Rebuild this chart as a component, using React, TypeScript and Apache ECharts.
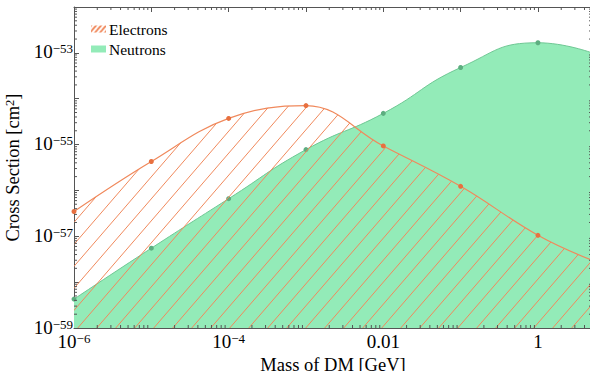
import React, { useEffect, useRef } from 'react';
import * as echarts from 'echarts';

const FONT = '"Liberation Serif", "Times New Roman", serif';

// Dark-matter mass (GeV) at which the cross sections were sampled
const massGeV = [1e-6, 1e-5, 1e-4, 1e-3, 1e-2, 1e-1, 1];
// Cross sections [cm^2]
const electronXS = [3.47e-57, 4.27e-56, 3.72e-55, 7.08e-55, 9.33e-56, 1.23e-56, 1.05e-57];
const neutronXS = [4.27e-59, 5.5e-58, 6.6e-57, 7.76e-56, 4.79e-55, 4.79e-54, 1.66e-53];
// curve values read at the right edge of the plot (no marker there)
const edgeMass = 5;
const electronEdgeXS = 3.0e-58;
const neutronEdgeXS = 1.0e-53;

const seriesNames = ['Electrons', 'Neutrons'];

// axis ranges (actual values; both axes are logarithmic)
const xRange = [1e-6, 5];
const yRange = [1e-59, 1e-52];

const xTickValues = [1e-6, 1e-4, 1e-2, 1];
const xTickLabels = ['{base|10}{sup|−6}', '{base|10}{sup|−4}', '{base|0.01}', '{base|1}'];
const yTickValues = [1e-59, 1e-57, 1e-55, 1e-53];
const yTickLabels = ['{base|10}{sup|−59}', '{base|10}{sup|−57}', '{base|10}{sup|−55}', '{base|10}{sup|−53}'];
const minorTickMultipliers = [2, 3, 4, 5, 6, 7, 8, 9];

const ORANGE = '#F0895C';
const ORANGE_DOT = '#E8703F';
const GREEN_FILL = '#93EBB8';
const GREEN_LINE = '#6FC794';
const GREEN_DOT = '#5DAE80';
const AXIS = '#555';

const lg = (v: number) => Math.log10(v);

function makeHatch(w: number, h: number, color: string, lw: number) {
  const c = document.createElement('canvas');
  c.width = w;
  c.height = h;
  const ctx = c.getContext('2d')!;
  ctx.strokeStyle = color;
  ctx.lineWidth = lw;
  for (const dx of [-w, 0, w]) {
    ctx.beginPath();
    ctx.moveTo(dx - 1, h + h / w);
    ctx.lineTo(dx + w + 1, -h / w);
    ctx.stroke();
  }
  return c;
}

function labelFor(values: number[], labels: string[]) {
  return (v: number) => {
    for (let i = 0; i < values.length; i++) {
      if (Math.abs(v - lg(values[i])) < 1e-6) return labels[i];
    }
    return '';
  };
}

function tickRich() {
  return {
    base: { fontFamily: FONT, fontSize: 19, color: '#000', lineHeight: 21, verticalAlign: 'top' },
    sup: { fontFamily: FONT, fontSize: 13, color: '#000', lineHeight: 12, verticalAlign: 'top' },
  };
}

export default function App() {
  const ref = useRef<HTMLDivElement>(null);
  useEffect(() => {
    const chart = echarts.init(ref.current!, null, { renderer: 'svg' });
    const hatch = makeHatch(19, 22, ORANGE, 1.0);
    const legendHatch = makeHatch(5, 6, ORANGE, 1.8);
    const hatchPattern: any = { image: hatch, repeat: 'repeat', imageWidth: 19, imageHeight: 22 };
    const legendPattern: any = { image: legendHatch, repeat: 'repeat', imageWidth: 5, imageHeight: 6 };

    const pts = (ys: number[], edge: number) =>
      massGeV
        .map((m, i) => [lg(m), lg(ys[i])] as any)
        .concat([{ value: [lg(edgeMass), lg(edge)], symbol: 'none' }]);

    const xMin = lg(xRange[0]);
    const xMax = lg(xRange[1]);
    const yMin = lg(yRange[0]);
    const yMax = lg(yRange[1]);

    // logarithmic minor tick positions (2..9 within each decade)
    const minor: number[][] = [];
    for (let d = Math.floor(xMin); d < xMax; d++) {
      for (const k of minorTickMultipliers) {
        const p = d + lg(k);
        if (p < xMax) minor.push([0, p]);
      }
    }
    for (let d = Math.floor(yMin); d < yMax; d++) {
      for (const k of minorTickMultipliers) {
        const p = d + lg(k);
        if (p < yMax) minor.push([1, p]);
      }
    }

    const axisCommon = {
      type: 'value',
      interval: 1,
      axisLine: { show: true, onZero: false, lineStyle: { color: AXIS, width: 1 } },
      axisTick: { show: true, inside: true, length: 5, lineStyle: { color: AXIS } },
      splitLine: { show: false },
    };

    const nameStyle = () => ({
      fontFamily: FONT,
      fontSize: 18.5,
      color: '#000',
      rich: {
        n: { fontFamily: FONT, fontSize: 18.5, color: '#000', lineHeight: 22, verticalAlign: 'top' },
        s: { fontFamily: FONT, fontSize: 12.5, color: '#000', lineHeight: 12, verticalAlign: 'top' },
      },
    });

    const option: any = {
      animation: false,
      backgroundColor: '#fff',
      grid: { left: 74, right: 0, top: 7, bottom: 43, containLabel: false, outerBoundsMode: 'none' },
      legend: {
        orient: 'vertical',
        left: 86,
        top: 16,
        itemWidth: 15,
        itemHeight: 7,
        itemGap: 4,
        textStyle: { fontFamily: FONT, fontSize: 15.5, color: '#000', padding: [0, 0, 0, -2] },
        data: [
          { name: seriesNames[0], icon: 'rect', itemStyle: { color: legendPattern, borderWidth: 0 } },
          { name: seriesNames[1], icon: 'rect', itemStyle: { color: GREEN_FILL, borderWidth: 0 } },
        ],
      },
      xAxis: [
        {
          ...axisCommon,
          position: 'bottom',
          min: xMin,
          max: xMax,
          axisLabel: {
            formatter: labelFor(xTickValues, xTickLabels),
            fontFamily: FONT,
            fontSize: 19,
            color: '#000',
            rich: tickRich(),
            margin: 4,
            showMaxLabel: false,
          },
          name: 'Mass of DM [GeV]',
          nameLocation: 'middle',
          nameGap: 21,
          nameTextStyle: nameStyle(),
        },
        {
          ...axisCommon,
          position: 'top',
          min: xMin,
          max: xMax,
          axisLabel: { show: false },
        },
      ],
      yAxis: [
        {
          ...axisCommon,
          position: 'left',
          min: yMin,
          max: yMax,
          axisLabel: {
            formatter: labelFor(yTickValues, yTickLabels),
            fontFamily: FONT,
            fontSize: 19,
            color: '#000',
            rich: tickRich(),
            margin: 1,
          },
          name: '{n|Cross Section [cm}{s|2}{n|]}',
          nameLocation: 'middle',
          nameGap: 40,
          nameTextStyle: nameStyle(),
        },
        {
          ...axisCommon,
          position: 'right',
          min: yMin,
          max: yMax,
          axisLabel: { show: false },
        },
      ],
      series: [
        {
          name: seriesNames[1],
          type: 'line',
          xAxisIndex: 0,
          yAxisIndex: 0,
          smooth: 0.5,
          symbol: 'circle',
          symbolSize: 5,
          data: pts(neutronXS, neutronEdgeXS),
          lineStyle: { color: GREEN_LINE, width: 1 },
          itemStyle: { color: GREEN_DOT },
          areaStyle: { color: GREEN_FILL, opacity: 1, origin: 'start' },
          z: 2,
        },
        {
          name: seriesNames[0],
          type: 'line',
          xAxisIndex: 0,
          yAxisIndex: 0,
          smooth: 0.4,
          symbol: 'circle',
          symbolSize: 5,
          data: pts(electronXS, electronEdgeXS),
          lineStyle: { color: ORANGE, width: 1.2 },
          itemStyle: { color: ORANGE_DOT },
          areaStyle: { color: hatchPattern, opacity: 1, origin: 'start' },
          z: 3,
        },
        {
          name: 'minor ticks',
          type: 'custom',
          xAxisIndex: 0,
          yAxisIndex: 0,
          silent: true,
          z: 10,
          data: minor,
          renderItem: (_params: any, api: any) => {
            const isY = api.value(0) === 1;
            const p = api.value(1);
            const L = 3;
            const st = { stroke: AXIS, lineWidth: 1 };
            if (!isY) {
              const b = api.coord([p, yMin]);
              const t = api.coord([p, yMax]);
              return {
                type: 'group',
                children: [
                  { type: 'line', shape: { x1: b[0], y1: b[1], x2: b[0], y2: b[1] - L }, style: st },
                  { type: 'line', shape: { x1: t[0], y1: t[1], x2: t[0], y2: t[1] + L }, style: st },
                ],
              };
            }
            const l = api.coord([xMin, p]);
            const r = api.coord([xMax, p]);
            return {
              type: 'group',
              children: [
                { type: 'line', shape: { x1: l[0], y1: l[1], x2: l[0] + L, y2: l[1] }, style: st },
                { type: 'line', shape: { x1: r[0], y1: r[1], x2: r[0] - L, y2: r[1] }, style: st },
              ],
            };
          },
        },
      ],
    };
    chart.setOption(option);
    return () => chart.dispose();
  }, []);
  return (
    <div
      ref={ref}
      style={{ position: 'fixed', left: 0, top: 0, width: 592, height: 371, background: '#fff' }}
    />
  );
}
